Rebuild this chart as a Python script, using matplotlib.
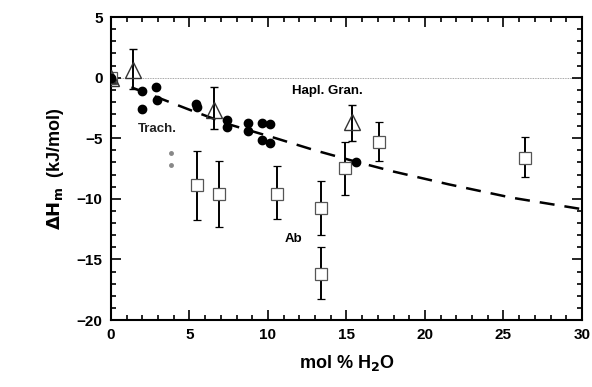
import matplotlib.pyplot as plt
import numpy as np

plt.rcParams['font.family'] = ['Liberation Sans', 'DejaVu Sans']

# Trach. (filled circles)
trach_x = [0.0, 1.95, 2.0, 2.87, 2.9, 5.4, 5.45, 7.37, 7.37, 8.73, 8.73, 9.64, 10.1, 9.64, 10.1, 15.6]
trach_y = [0.0, -1.09, -2.57, -0.77, -1.86, -2.2, -2.4, -3.5, -4.1, -3.74, -4.43, -3.74, -3.8, -5.16, -5.38, -7.0]

# small grey points
small_x = [3.82, 3.82]
small_y = [-6.25, -7.24]

# Hapl. Gran. (open triangles)
hg_x = [0.0, 1.42, 6.56, 15.37]
hg_y = [0.0, 0.63, -2.65, -3.66]
hg_top = [0.0, 2.4, -0.74, -2.24]
hg_bot = [0.0, -0.96, -4.24, -5.25]

# Ab (open squares)
ab_x = [0.0, 5.5, 6.86, 10.55, 13.35, 13.35, 14.93, 17.1, 26.4]
ab_y = [0.0, -8.88, -9.6, -9.56, -10.76, -16.2, -7.49, -5.3, -6.6]
ab_top = [0.0, -6.07, -6.89, -7.3, -8.5, -14.0, -5.33, -3.69, -4.92]
ab_bot = [0.0, -11.75, -12.3, -11.67, -12.95, -18.3, -9.67, -6.89, -8.2]

# dashed model curve
fit_x = [1.3, 3, 5, 7.5, 10.5, 13, 15.5, 18, 21.5, 25.5, 30]
fit_y = [-0.8, -1.65, -2.65, -3.85, -5.0, -6.0, -6.9, -7.75, -8.8, -9.9, -10.85]

fig = plt.figure(figsize=(5.92, 3.87), dpi=100)
ax = fig.add_axes([0.1875, 0.173, 0.7955, 0.783])

ax.axhline(0, color='#888888', lw=0.6, ls=(0, (1, 1)), zorder=1)
ax.plot(fit_x, fit_y, color='black', lw=1.8, ls=(0, (6, 4)), zorder=2)

def errs(y, top, bot):
    y = np.array(y)
    return [y - np.array(bot), np.array(top) - y]

ax.errorbar(ab_x, ab_y, yerr=errs(ab_y, ab_top, ab_bot), fmt='s', mfc='white', mec='#555555',
            mew=0.9, ms=8, ecolor='black', elinewidth=1.4, capsize=3, capthick=1.4, zorder=3)
ax.errorbar(hg_x, hg_y, yerr=errs(hg_y, hg_top, hg_bot), fmt='^', mfc='none', mec='#333333',
            mew=1.0, ms=12, ecolor='black', elinewidth=1.4, capsize=3, capthick=1.4, zorder=3)
ax.plot(hg_x[0], hg_y[0], '^', color='#333333', ms=7, zorder=4)
ax.plot(trach_x, trach_y, 'o', color='black', ms=6, zorder=4)
ax.plot(small_x, small_y, 'o', color='#888888', ms=2.5, zorder=4)

ax.text(1.72, -4.2, 'Trach.', fontsize=9.5, fontweight='bold', color='#222222', va='center', ha='left')
ax.text(11.5, -1.07, 'Hapl. Gran.', fontsize=9.5, fontweight='bold', va='center', ha='left')
ax.text(11.08, -13.3, 'Ab', fontsize=9.5, fontweight='bold', va='center', ha='left')

ax.set_xlim(0, 30)
ax.set_ylim(-20, 5)
ax.set_xticks([0, 5, 10, 15, 20, 25, 30])
ax.set_yticks([5, 0, -5, -10, -15, -20])
ax.set_xticks(np.arange(0, 31, 1), minor=True)
ax.set_yticks(np.arange(-20, 6, 1), minor=True)
ax.tick_params(which='both', direction='in', top=True, right=True, width=1.2)
ax.tick_params(which='major', length=7, labelsize=11, pad=6)
ax.tick_params(which='minor', length=3.5)
for lab in ax.get_xticklabels() + ax.get_yticklabels():
    lab.set_fontweight('bold')
for s in ax.spines.values():
    s.set_linewidth(1.5)

ax.set_xlabel('mol % H$_\\mathbf{2}$O', fontsize=13, fontweight='bold', labelpad=8)
ax.set_ylabel('$\\mathbf{\\Delta H_m}$  (kJ/mol)', fontsize=13, fontweight='bold', labelpad=8)

fig.savefig('out.png', dpi=100)
